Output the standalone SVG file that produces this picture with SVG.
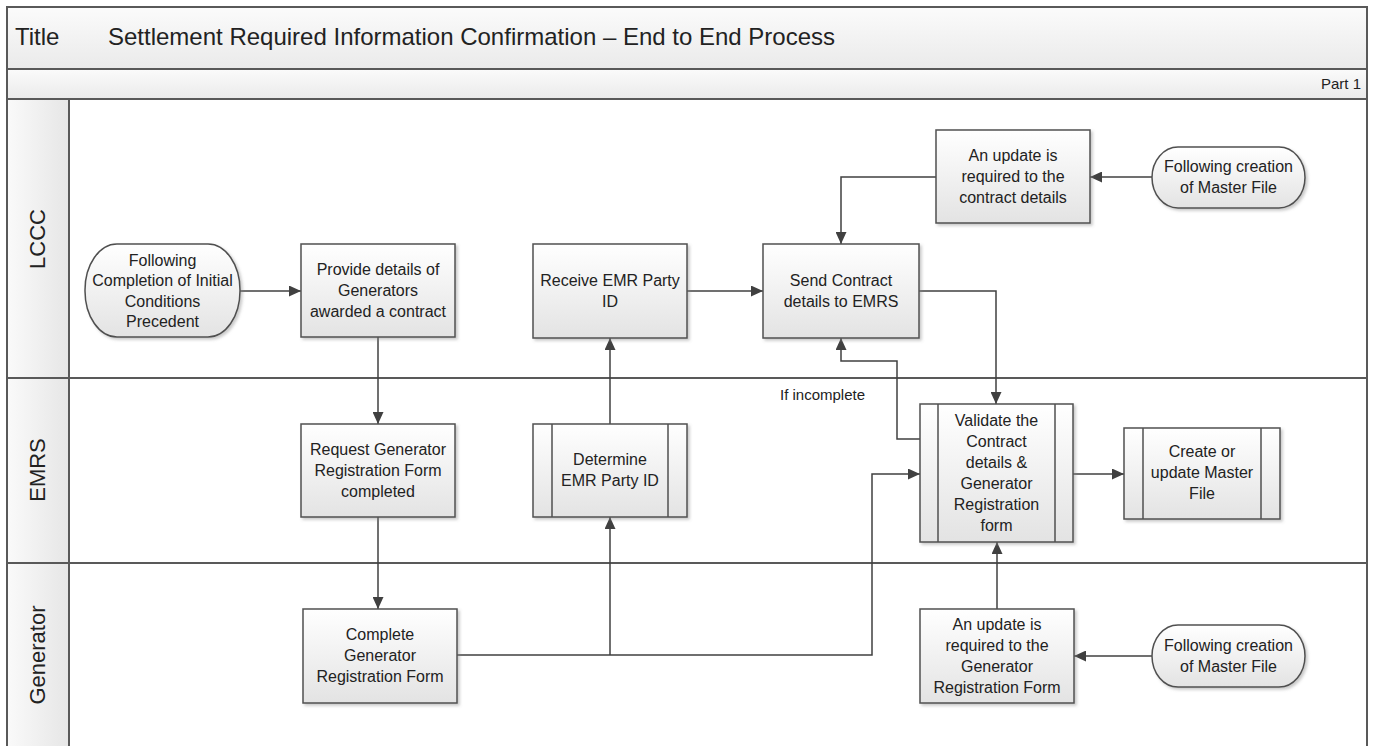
<svg xmlns="http://www.w3.org/2000/svg" width="1375" height="746" viewBox="0 0 1375 746">
<style>
.frame{fill:none;stroke:#595959;stroke-width:2}
.box{fill:url(#gBox);stroke:#505050;stroke-width:1.5;filter:url(#sh)}
.inner{fill:none;stroke:#505050;stroke-width:1.5}
.t{font-family:"Liberation Sans",Arial,sans-serif;font-size:16px;fill:#222;text-anchor:middle}
.lane{font-family:"Liberation Sans",Arial,sans-serif;font-size:22px;fill:#222;text-anchor:middle}
.conn{fill:none;stroke:#404040;stroke-width:1.5}
.arr{marker-end:url(#ah)}
</style>
<defs>
<linearGradient id="gBox" x1="0" y1="0" x2="0" y2="1"><stop offset="0" stop-color="#ffffff"/><stop offset="1" stop-color="#e3e3e3"/></linearGradient>
<linearGradient id="gBand" x1="0" y1="0" x2="0" y2="1"><stop offset="0" stop-color="#fbfbfb"/><stop offset="1" stop-color="#eaeaea"/></linearGradient>
<linearGradient id="gCol" x1="0" y1="0" x2="1" y2="0"><stop offset="0" stop-color="#fafafa"/><stop offset="1" stop-color="#e6e6e6"/></linearGradient>
<filter id="sh" x="-10%" y="-10%" width="130%" height="130%"><feDropShadow dx="2" dy="2" stdDeviation="1.5" flood-color="#888" flood-opacity="0.45"/></filter>
<marker id="ah" markerUnits="userSpaceOnUse" markerWidth="13" markerHeight="11" refX="12" refY="5.5" orient="auto"><path d="M0,0 L12,5.5 L0,11 z" fill="#404040"/></marker>
</defs>

<g id="frame">
<rect x="7" y="7" width="1360" height="62" fill="url(#gBand)" stroke="#595959" stroke-width="2"/>
<rect x="7" y="69" width="1360" height="30" fill="url(#gBand)" stroke="#595959" stroke-width="2"/>
<rect x="7" y="99" width="62" height="660" fill="url(#gCol)" stroke="#595959" stroke-width="2"/>
<path class="frame" d="M69,99 H1367 V760 M7,378 H1367 M7,563 H1367"/>
<text x="15" y="45" font-family="Liberation Sans,Arial,sans-serif" font-size="24" fill="#222">Title</text>
<text x="108" y="45" font-family="Liberation Sans,Arial,sans-serif" font-size="24" fill="#222">Settlement Required Information Confirmation – End to End Process</text>
<text x="1361" y="89" font-family="Liberation Sans,Arial,sans-serif" font-size="15" fill="#222" text-anchor="end">Part 1</text>
<text class="lane" transform="translate(45,239) rotate(-90)">LCCC</text>
<text class="lane" transform="translate(45,470) rotate(-90)">EMRS</text>
<text class="lane" transform="translate(45,655) rotate(-90)">Generator</text>
</g>

<g id="connectors">
<path class="conn arr" d="M240,291 H301"/>
<path class="conn arr" d="M378,337 V424"/>
<path class="conn arr" d="M378,517 V609"/>
<path class="conn arr" d="M456,655 H872 V474 H920"/>
<path class="conn arr" d="M610,655 V517"/>
<path class="conn arr" d="M610,424 V338"/>
<path class="conn arr" d="M687,291 H763"/>
<path class="conn arr" d="M919,291 H996 V404"/>
<path class="conn arr" d="M920,439 H897 V361 H841 V338"/>
<path class="conn arr" d="M936,177 H841 V244"/>
<path class="conn arr" d="M1152,177 H1090"/>
<path class="conn arr" d="M1073,474 H1124"/>
<path class="conn arr" d="M997,609 V542"/>
<path class="conn arr" d="M1152,656 H1074"/>
<text x="780" y="400" font-family="Liberation Sans,Arial,sans-serif" font-size="15" fill="#222">If incomplete</text>
</g>

<g id="n-start">
<rect class="box" x="85" y="244" width="155" height="93" rx="32" ry="46"/>
<text class="t"><tspan x="162.5" y="266">Following</tspan><tspan x="162.5" y="286">Completion of Initial</tspan><tspan x="162.5" y="307">Conditions</tspan><tspan x="162.5" y="327">Precedent</tspan></text>
</g>

<g id="n-provide">
<rect class="box" x="301" y="244" width="154" height="93"/>
<text class="t"><tspan x="378" y="275">Provide details of</tspan><tspan x="378" y="296">Generators</tspan><tspan x="378" y="317">awarded a contract</tspan></text>
</g>

<g id="n-receive">
<rect class="box" x="533" y="244" width="154" height="94"/>
<text class="t"><tspan x="610" y="286">Receive EMR Party</tspan><tspan x="610" y="307">ID</tspan></text>
</g>

<g id="n-send">
<rect class="box" x="763" y="244" width="156" height="94"/>
<text class="t"><tspan x="841" y="286">Send Contract</tspan><tspan x="841" y="307">details to EMRS</tspan></text>
</g>

<g id="n-update-contract">
<rect class="box" x="936" y="130" width="154" height="93"/>
<text class="t"><tspan x="1013" y="161">An update is</tspan><tspan x="1013" y="182">required to the</tspan><tspan x="1013" y="203">contract details</tspan></text>
</g>

<g id="n-master1">
<rect class="box" x="1152" y="147" width="153" height="61" rx="26" ry="30.5"/>
<text class="t"><tspan x="1228.5" y="172">Following creation</tspan><tspan x="1228.5" y="193">of Master File</tspan></text>
</g>

<g id="n-request">
<rect class="box" x="301" y="424" width="154" height="93"/>
<text class="t"><tspan x="378" y="455">Request Generator</tspan><tspan x="378" y="476">Registration Form</tspan><tspan x="378" y="497">completed</tspan></text>
</g>

<g id="n-determine">
<rect class="box" x="533" y="424" width="154" height="93"/>
<path class="inner" d="M552,424 V517 M668,424 V517"/>
<text class="t"><tspan x="610" y="465">Determine</tspan><tspan x="610" y="486">EMR Party ID</tspan></text>
</g>

<g id="n-validate">
<rect class="box" x="920" y="404" width="153" height="138"/>
<path class="inner" d="M938,404 V542 M1055,404 V542"/>
<text class="t"><tspan x="996.5" y="426">Validate the</tspan><tspan x="996.5" y="447">Contract</tspan><tspan x="996.5" y="468">details &amp;</tspan><tspan x="996.5" y="489">Generator</tspan><tspan x="996.5" y="510">Registration</tspan><tspan x="996.5" y="531">form</tspan></text>
</g>

<g id="n-create">
<rect class="box" x="1124" y="428" width="156" height="91"/>
<path class="inner" d="M1143,428 V519 M1261,428 V519"/>
<text class="t"><tspan x="1202" y="457">Create or</tspan><tspan x="1202" y="478">update Master</tspan><tspan x="1202" y="499">File</tspan></text>
</g>

<g id="n-complete">
<rect class="box" x="303" y="609" width="154" height="94"/>
<text class="t"><tspan x="380" y="640">Complete</tspan><tspan x="380" y="661">Generator</tspan><tspan x="380" y="682">Registration Form</tspan></text>
</g>

<g id="n-update-gen">
<rect class="box" x="920" y="609" width="154" height="94"/>
<text class="t"><tspan x="997" y="630">An update is</tspan><tspan x="997" y="651">required to the</tspan><tspan x="997" y="672">Generator</tspan><tspan x="997" y="693">Registration Form</tspan></text>
</g>

<g id="n-master2">
<rect class="box" x="1152" y="625" width="153" height="62" rx="26" ry="31"/>
<text class="t"><tspan x="1228.5" y="651">Following creation</tspan><tspan x="1228.5" y="672">of Master File</tspan></text>
</g>
</svg>
